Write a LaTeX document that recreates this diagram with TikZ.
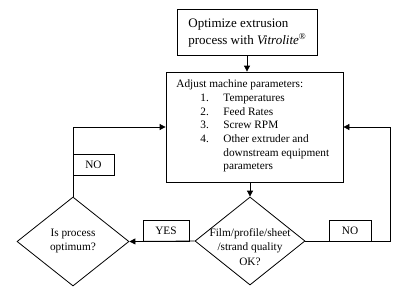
\documentclass[tikz,border=0pt]{standalone}
\usepackage{fontspec}
\setmainfont{Liberation Serif}
\usetikzlibrary{shapes.geometric,arrows.meta}
\begin{document}
\begin{tikzpicture}[x=1pt,y=-1pt,
  line width=0.8pt,
  box/.style={draw,rectangle,inner sep=0pt},
  tag/.style={draw,rectangle,inner sep=0pt,minimum width=#1,minimum height=21pt,font=\fontsize{11.3}{13.7}\selectfont},
  dia/.style={draw,diamond,inner sep=0pt},
  txt/.style={font=\fontsize{11.3}{14.2}\selectfont,align=center,inner sep=0pt},
  arr/.style={-{Triangle[length=6pt,width=6pt]}}
]
\useasboundingbox (0,0) rectangle (417,303);
\fill[white] (0,0) rectangle (417,303);

\node[box, minimum width=140pt, minimum height=46pt] (top) at (247,32) {};
\node[anchor=west, inner sep=0pt, align=left, font=\fontsize{13}{16.5}\selectfont] (toptxt) at (188,33) {Optimize extrusion\\process with \textit{Vitrolite}\textsuperscript{®}};

\node[box, minimum width=177pt, minimum height=110pt] (adj) at (254.5,127) {};
\node[anchor=west, inner sep=0pt, font=\fontsize{11.3}{13.7}\selectfont] (adjtxt) at (176,126) {%
\begin{tabular}{@{}p{24pt}@{}p{23pt}@{}l@{}}
\multicolumn{3}{@{}l@{}}{Adjust machine parameters:}\\
& 1. & Temperatures\\
& 2. & Feed Rates\\
& 3. & Screw RPM\\
& 4. & Other extruder and\\
& & downstream equipment\\
& & parameters
\end{tabular}};

\node[dia, minimum width=110pt, minimum height=88pt] (film) at (250,241) {};
\node[txt] (filmtxt) at (250,247) {Film/profile/sheet\\/strand quality\\OK?};

\node[dia, minimum width=112pt, minimum height=89pt] (opt) at (73,241.5) {};
\node[txt] (opttxt) at (73,241) {Is process\\optimum?};

\node[tag=46pt] (yes) at (166,230.5) {YES};
\node[tag=41pt] (no1) at (93.5,164.5) {NO};
\node[tag=42pt] (no2) at (350,230.5) {NO};

\coordinate (r) at (390,241);
\draw[arr] (top.south) -- (adj.north -| top.south);
\draw[arr] (adj.south -| film.north) -- (film.north);
\draw[arr] (film.east) -- (r) |- (adj.east);
\draw[arr] (film.west) -- (opt.east);
\draw[arr] (opt.north) |- (adj.west);
\end{tikzpicture}
\end{document}
